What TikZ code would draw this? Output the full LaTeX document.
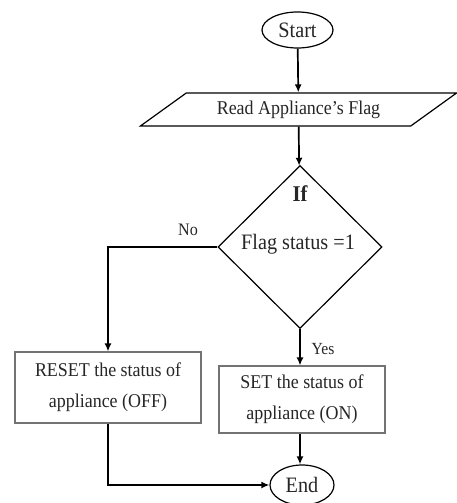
\documentclass[tikz,border=0pt]{standalone}
\usepackage{fontspec}
\setmainfont{Liberation Serif}
\newfontfamily\narrowserif[FakeStretch=0.92,Ligatures=TeX]{Liberation Serif}
\usetikzlibrary{shapes.geometric,arrows.meta}
\begin{document}
\begin{tikzpicture}[x=1pt,y=-1pt,
  txt/.style={text=black!85, inner sep=0pt, align=center},
  term/.style={ellipse, draw, line width=1.2pt, inner sep=0pt, txt},
  proc/.style={rectangle, draw=black!55, line width=1.1pt, inner sep=0pt, txt,
    font=\narrowserif\fontsize{19.5}{31}\selectfont},
  conn/.style={line width=1.7pt, -{Latex[length=8pt,width=7pt]}}]
\useasboundingbox (0,0) rectangle (457,503);
\node[term, minimum width=71pt, minimum height=36pt, font=\narrowserif\fontsize{22}{24}\selectfont] (start) at (297.5,30) {Start};
\node[trapezium, trapezium left angle=28, trapezium right angle=152, trapezium stretches=true,
  draw, line width=1.2pt, minimum width=317pt, minimum height=33pt, txt,
  font=\narrowserif\fontsize{19.5}{22}\selectfont] (read) at (298.5,109.5) {Read Appliance’s Flag};
\node[diamond, draw, line width=1.2pt, minimum width=164pt, minimum height=163pt, inner sep=0pt] (dec) at (300,247) {};
\node[txt, font=\narrowserif\fontsize{22.5}{24}\selectfont\bfseries] (if) at (300,194) {If};
\node[txt, font=\narrowserif\fontsize{22}{24}\selectfont] (cond) at (298,244) {Flag status =1};
\node[proc, minimum width=186pt, minimum height=71pt] (reset) at (108,387.5) {RESET the status of\\appliance (OFF)};
\node[proc, minimum width=166pt, minimum height=67pt] (set) at (302,399.5) {SET the status of\\appliance (ON)};
\node[term, minimum width=64pt, minimum height=40pt, font=\narrowserif\fontsize{22}{24}\selectfont] (end) at (302,485) {End};
\node[txt, font=\narrowserif\fontsize{17.5}{20}\selectfont] (no) at (188,230) {No};
\node[txt, font=\narrowserif\fontsize{17}{20}\selectfont] (yes) at (323,349) {Yes};
\draw[conn] (start) -- (read);
\draw[conn] (read) -- (dec);
\draw[conn] (dec.west) -| (reset.north);
\draw[conn] (dec.south) -- (dec.south |- set.north);
\draw[conn] (set.south -| dec.south) -- (dec.south |- end.north);
\draw[conn] (reset.south) |- (end.west);
\end{tikzpicture}
\end{document}
